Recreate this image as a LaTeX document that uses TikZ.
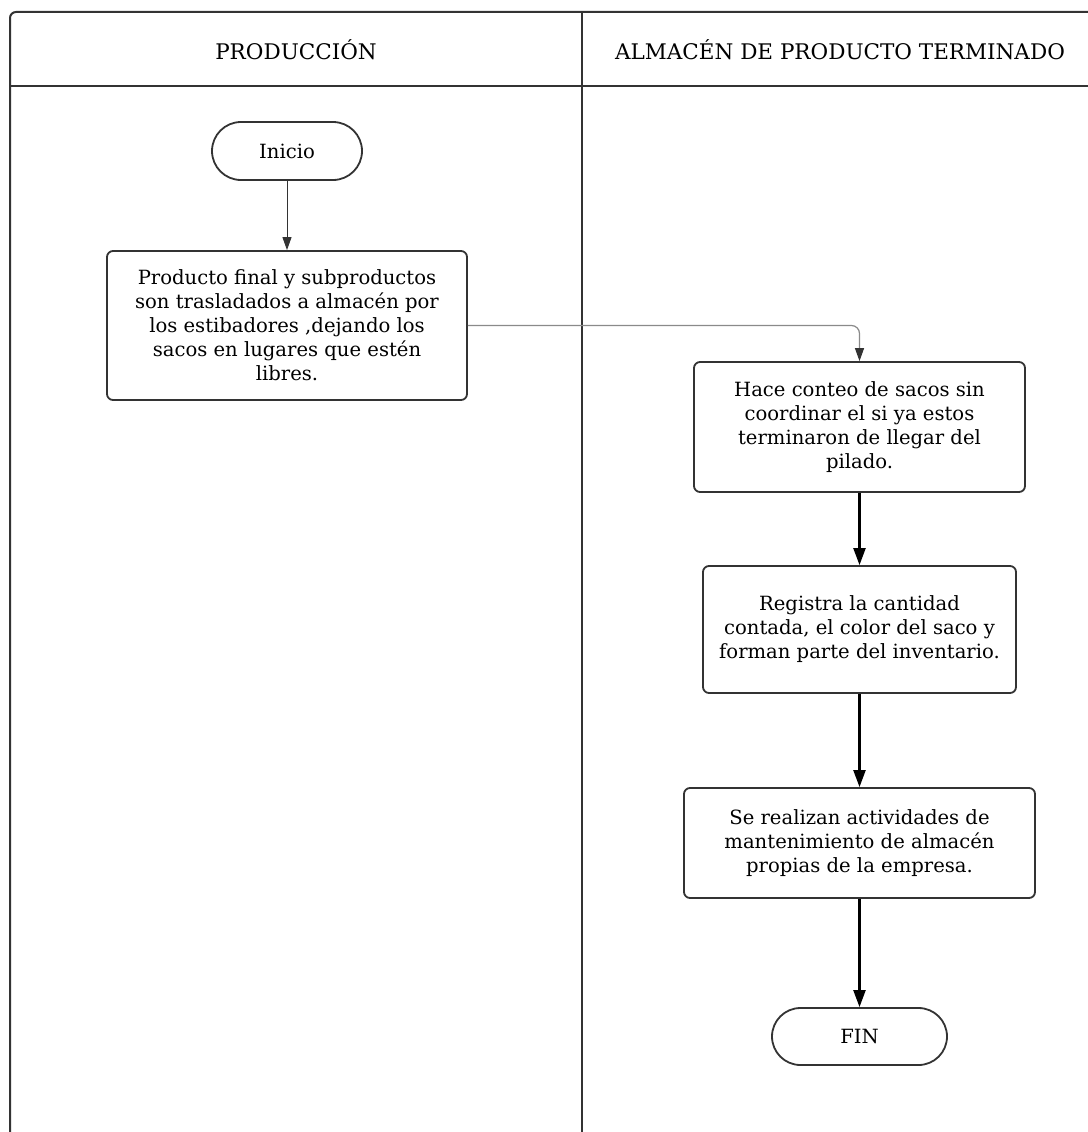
\documentclass[tikz,border=0pt]{standalone}
\usepackage{fontspec}
\setmainfont{DejaVu Serif}
\usetikzlibrary{arrows.meta,shapes.misc}
\definecolor{linec}{HTML}{333333}
\definecolor{thinc}{HTML}{8A8A8A}
\begin{document}
\begin{tikzpicture}[x=1pt,y=-1pt,
  lanetitle/.style={font=\fontsize{21.5}{26}\selectfont, text=black},
  procbox/.style={draw=linec, line width=1.8pt, rounded corners=6pt, align=center,
    font=\fontsize{19.6}{24}\selectfont, inner sep=0pt},
  termbox/.style={draw=linec, line width=1.8pt, rounded rectangle, align=center,
    font=\fontsize{19.6}{24}\selectfont, inner sep=0pt},
  frameline/.style={draw=linec, line width=2pt},
  thinarrow/.style={draw=linec, line width=1pt, -{Triangle[length=13pt,width=9pt]}},
  greyarrow/.style={draw=thinc, line width=1.2pt, rounded corners=8pt, -{Triangle[length=13pt,width=9pt,color=linec,fill=linec]}},
  thickarrow/.style={draw=black, line width=2.2pt, -{Triangle[length=17pt,width=12pt]}}
]
\useasboundingbox (0,0) rectangle (1087,1132);
\fill[white] (0,0) rectangle (1087,1132);
% lane frame
\draw[frameline, rounded corners=6pt] (10,1140) -- (10,12) -- (1095,12);
\draw[frameline] (10,86) -- (1095,86);
\draw[frameline] (582,12) -- (582,1140);
\node[lanetitle] (t1) at (296,50) {PRODUCCIÓN};
\node[lanetitle] (t2) at (840,50) {ALMACÉN DE PRODUCTO TERMINADO};
% nodes
\node[termbox, minimum width=150pt, minimum height=58pt] (inicio) at (287,151) {Inicio};
\node[procbox, minimum width=360pt, minimum height=149pt] (b1) at (287,325.5)
  {Producto final y subproductos\\son trasladados a almacén por\\los estibadores ,dejando los\\sacos en lugares que estén\\libres.};
\node[procbox, minimum width=331pt, minimum height=130pt] (b2) at (859.5,427)
  {Hace conteo de sacos sin\\coordinar el si ya estos\\terminaron de llegar del\\pilado.};
\node[procbox, minimum width=313pt, minimum height=127pt] (b3) at (859.5,629.5)
  {Registra la cantidad\\contada, el color del saco y\\forman parte del inventario.};
\node[procbox, minimum width=351pt, minimum height=110pt] (b4) at (859.5,843)
  {Se realizan actividades de\\mantenimiento de almacén\\propias de la empresa.};
\node[termbox, minimum width=175pt, minimum height=57pt] (fin) at (859.5,1036.5) {FIN};
% connectors
\draw[thinarrow] (inicio.south) -- (b1.north);
\draw[greyarrow] (b1.east) -| (b2.north);
\draw[thickarrow] (b2.south) -- (b3.north);
\draw[thickarrow] (b3.south) -- (b4.north);
\draw[thickarrow] (b4.south) -- (fin.north);
\end{tikzpicture}
\end{document}
